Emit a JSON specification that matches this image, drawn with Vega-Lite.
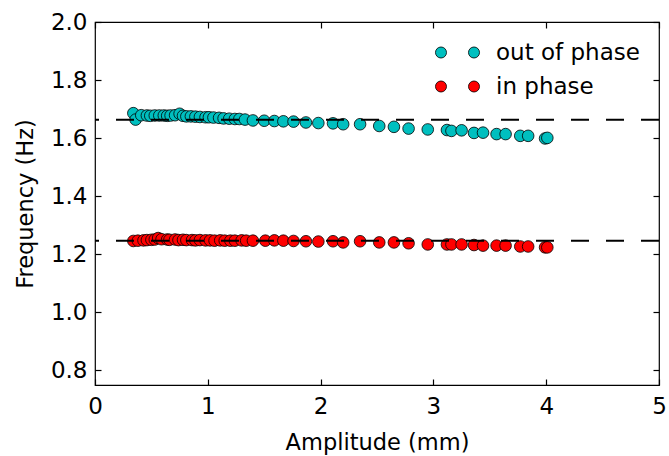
{
  "$schema": "https://vega.github.io/schema/vega-lite/v6.json",
  "width": 564,
  "height": 363,
  "autosize": {"type": "none"},
  "padding": {"left": 95, "top": 22, "right": 10, "bottom": 71},
  "background": "white",
  "config": {
    "font": "DejaVu Sans",
    "view": {"stroke": "black", "strokeWidth": 1.2},
    "axis": {
      "labelFont": "DejaVu Sans", "titleFont": "DejaVu Sans",
      "labelFontSize": 23, "titleFontSize": 22.5, "titleFontWeight": "normal",
      "labelColor": "black", "titleColor": "black", "labelFlush": false, "labelOverlap": false,
      "tickColor": "black", "domainColor": "black", "tickSize": -6, "tickWidth": 1.2,
      "domain": false, "grid": false
    }
  },
  "datasets": {
    "pts": [
      {"a": 0.34, "f": 1.686, "s": "out of phase"},
      {"a": 0.36, "f": 1.664, "s": "out of phase"},
      {"a": 0.41, "f": 1.679, "s": "out of phase"},
      {"a": 0.46, "f": 1.678, "s": "out of phase"},
      {"a": 0.49, "f": 1.677, "s": "out of phase"},
      {"a": 0.53, "f": 1.678, "s": "out of phase"},
      {"a": 0.57, "f": 1.678, "s": "out of phase"},
      {"a": 0.61, "f": 1.678, "s": "out of phase"},
      {"a": 0.64, "f": 1.677, "s": "out of phase"},
      {"a": 0.67, "f": 1.678, "s": "out of phase"},
      {"a": 0.71, "f": 1.679, "s": "out of phase"},
      {"a": 0.75, "f": 1.684, "s": "out of phase"},
      {"a": 0.78, "f": 1.677, "s": "out of phase"},
      {"a": 0.81, "f": 1.675, "s": "out of phase"},
      {"a": 0.85, "f": 1.675, "s": "out of phase"},
      {"a": 0.89, "f": 1.674, "s": "out of phase"},
      {"a": 0.93, "f": 1.673, "s": "out of phase"},
      {"a": 0.98, "f": 1.672, "s": "out of phase"},
      {"a": 1.01, "f": 1.672, "s": "out of phase"},
      {"a": 1.05, "f": 1.671, "s": "out of phase"},
      {"a": 1.10, "f": 1.670, "s": "out of phase"},
      {"a": 1.14, "f": 1.668, "s": "out of phase"},
      {"a": 1.19, "f": 1.667, "s": "out of phase"},
      {"a": 1.24, "f": 1.666, "s": "out of phase"},
      {"a": 1.28, "f": 1.666, "s": "out of phase"},
      {"a": 1.33, "f": 1.664, "s": "out of phase"},
      {"a": 1.40, "f": 1.661, "s": "out of phase"},
      {"a": 1.50, "f": 1.660, "s": "out of phase"},
      {"a": 1.59, "f": 1.659, "s": "out of phase"},
      {"a": 1.67, "f": 1.658, "s": "out of phase"},
      {"a": 1.76, "f": 1.657, "s": "out of phase"},
      {"a": 1.87, "f": 1.654, "s": "out of phase"},
      {"a": 1.98, "f": 1.652, "s": "out of phase"},
      {"a": 2.11, "f": 1.651, "s": "out of phase"},
      {"a": 2.20, "f": 1.648, "s": "out of phase"},
      {"a": 2.35, "f": 1.648, "s": "out of phase"},
      {"a": 2.52, "f": 1.642, "s": "out of phase"},
      {"a": 2.65, "f": 1.639, "s": "out of phase"},
      {"a": 2.78, "f": 1.633, "s": "out of phase"},
      {"a": 2.95, "f": 1.630, "s": "out of phase"},
      {"a": 3.12, "f": 1.628, "s": "out of phase"},
      {"a": 3.16, "f": 1.625, "s": "out of phase"},
      {"a": 3.25, "f": 1.627, "s": "out of phase"},
      {"a": 3.36, "f": 1.618, "s": "out of phase"},
      {"a": 3.44, "f": 1.619, "s": "out of phase"},
      {"a": 3.56, "f": 1.614, "s": "out of phase"},
      {"a": 3.64, "f": 1.614, "s": "out of phase"},
      {"a": 3.77, "f": 1.608, "s": "out of phase"},
      {"a": 3.84, "f": 1.608, "s": "out of phase"},
      {"a": 3.99, "f": 1.599, "s": "out of phase"},
      {"a": 4.01, "f": 1.601, "s": "out of phase"},
      {"a": 0.34, "f": 1.246, "s": "in phase"},
      {"a": 0.38, "f": 1.247, "s": "in phase"},
      {"a": 0.43, "f": 1.248, "s": "in phase"},
      {"a": 0.46, "f": 1.249, "s": "in phase"},
      {"a": 0.50, "f": 1.250, "s": "in phase"},
      {"a": 0.53, "f": 1.251, "s": "in phase"},
      {"a": 0.56, "f": 1.256, "s": "in phase"},
      {"a": 0.59, "f": 1.252, "s": "in phase"},
      {"a": 0.64, "f": 1.251, "s": "in phase"},
      {"a": 0.66, "f": 1.250, "s": "in phase"},
      {"a": 0.71, "f": 1.251, "s": "in phase"},
      {"a": 0.74, "f": 1.249, "s": "in phase"},
      {"a": 0.78, "f": 1.250, "s": "in phase"},
      {"a": 0.81, "f": 1.249, "s": "in phase"},
      {"a": 0.86, "f": 1.249, "s": "in phase"},
      {"a": 0.89, "f": 1.248, "s": "in phase"},
      {"a": 0.93, "f": 1.249, "s": "in phase"},
      {"a": 0.98, "f": 1.248, "s": "in phase"},
      {"a": 1.02, "f": 1.248, "s": "in phase"},
      {"a": 1.06, "f": 1.247, "s": "in phase"},
      {"a": 1.11, "f": 1.248, "s": "in phase"},
      {"a": 1.15, "f": 1.247, "s": "in phase"},
      {"a": 1.20, "f": 1.247, "s": "in phase"},
      {"a": 1.24, "f": 1.247, "s": "in phase"},
      {"a": 1.30, "f": 1.248, "s": "in phase"},
      {"a": 1.34, "f": 1.247, "s": "in phase"},
      {"a": 1.40, "f": 1.247, "s": "in phase"},
      {"a": 1.51, "f": 1.247, "s": "in phase"},
      {"a": 1.59, "f": 1.248, "s": "in phase"},
      {"a": 1.67, "f": 1.247, "s": "in phase"},
      {"a": 1.76, "f": 1.246, "s": "in phase"},
      {"a": 1.87, "f": 1.245, "s": "in phase"},
      {"a": 1.98, "f": 1.244, "s": "in phase"},
      {"a": 2.11, "f": 1.245, "s": "in phase"},
      {"a": 2.20, "f": 1.241, "s": "in phase"},
      {"a": 2.35, "f": 1.245, "s": "in phase"},
      {"a": 2.52, "f": 1.241, "s": "in phase"},
      {"a": 2.65, "f": 1.241, "s": "in phase"},
      {"a": 2.78, "f": 1.238, "s": "in phase"},
      {"a": 2.95, "f": 1.234, "s": "in phase"},
      {"a": 3.12, "f": 1.234, "s": "in phase"},
      {"a": 3.16, "f": 1.234, "s": "in phase"},
      {"a": 3.25, "f": 1.234, "s": "in phase"},
      {"a": 3.36, "f": 1.232, "s": "in phase"},
      {"a": 3.44, "f": 1.230, "s": "in phase"},
      {"a": 3.56, "f": 1.230, "s": "in phase"},
      {"a": 3.64, "f": 1.230, "s": "in phase"},
      {"a": 3.77, "f": 1.227, "s": "in phase"},
      {"a": 3.84, "f": 1.227, "s": "in phase"},
      {"a": 3.99, "f": 1.224, "s": "in phase"},
      {"a": 4.01, "f": 1.224, "s": "in phase"}
    ],
    "refs": [
      {"f": 1.663},
      {"f": 1.247}
    ]
  },
  "layer": [
    {
      "data": {"name": "pts"},
      "mark": {"type": "point", "filled": true, "shape": "circle", "size": 135, "opacity": 1, "stroke": "black", "strokeWidth": 0.8},
      "encoding": {
        "x": {"field": "a", "type": "quantitative", "scale": {"domain": [0, 5], "nice": false, "zero": false},
              "axis": {"orient": "bottom", "title": "Amplitude (mm)", "values": [0, 1, 2, 3, 4, 5], "format": "d", "labelPadding": 16, "titlePadding": 13}},
        "y": {"field": "f", "type": "quantitative", "scale": {"domain": [0.75, 2.0], "nice": false, "zero": false},
              "axis": {"orient": "left", "title": "Frequency (Hz)", "values": [0.8, 1.0, 1.2, 1.4, 1.6, 1.8, 2.0], "format": ".1f", "labelPadding": 14, "titlePadding": 13}},
        "color": {"field": "s", "type": "nominal",
          "scale": {"domain": ["out of phase", "in phase"], "range": ["#00BFBF", "#FF0000"]},
          "legend": {
            "orient": "top-right", "title": null, "offset": 19, "padding": 0,
            "symbolType": "M -3.67,0 A 0.92,0.92 0 1,1 -1.83,0 A 0.92,0.92 0 1,1 -3.67,0 Z M 1.83,0 A 0.92,0.92 0 1,1 3.67,0 A 0.92,0.92 0 1,1 1.83,0 Z",
            "symbolSize": 144, "symbolStrokeColor": "black", "symbolStrokeWidth": 0.8, "symbolOpacity": 1,
            "labelFont": "DejaVu Sans", "labelFontSize": 23, "labelColor": "black", "labelOffset": 27, "rowPadding": 10,
            "labelLimit": 300
          }
        }
      }
    },
    {
      "data": {"name": "refs"},
      "mark": {"type": "rule", "color": "black", "strokeWidth": 2, "strokeDash": [18, 17]},
      "encoding": {
        "y": {"field": "f", "type": "quantitative", "axis": null}
      }
    },
    {
      "data": {"name": "pts"},
      "mark": {"type": "point", "opacity": 0},
      "encoding": {
        "x": {"field": "a", "type": "quantitative", "axis": {"orient": "top", "values": [0, 1, 2, 3, 4, 5], "labels": false, "title": null}},
        "y": {"field": "f", "type": "quantitative", "axis": {"orient": "right", "values": [0.8, 1.0, 1.2, 1.4, 1.6, 1.8, 2.0], "labels": false, "title": null}}
      }
    }
  ],
  "resolve": {"axis": {"x": "independent", "y": "independent"}}
}
